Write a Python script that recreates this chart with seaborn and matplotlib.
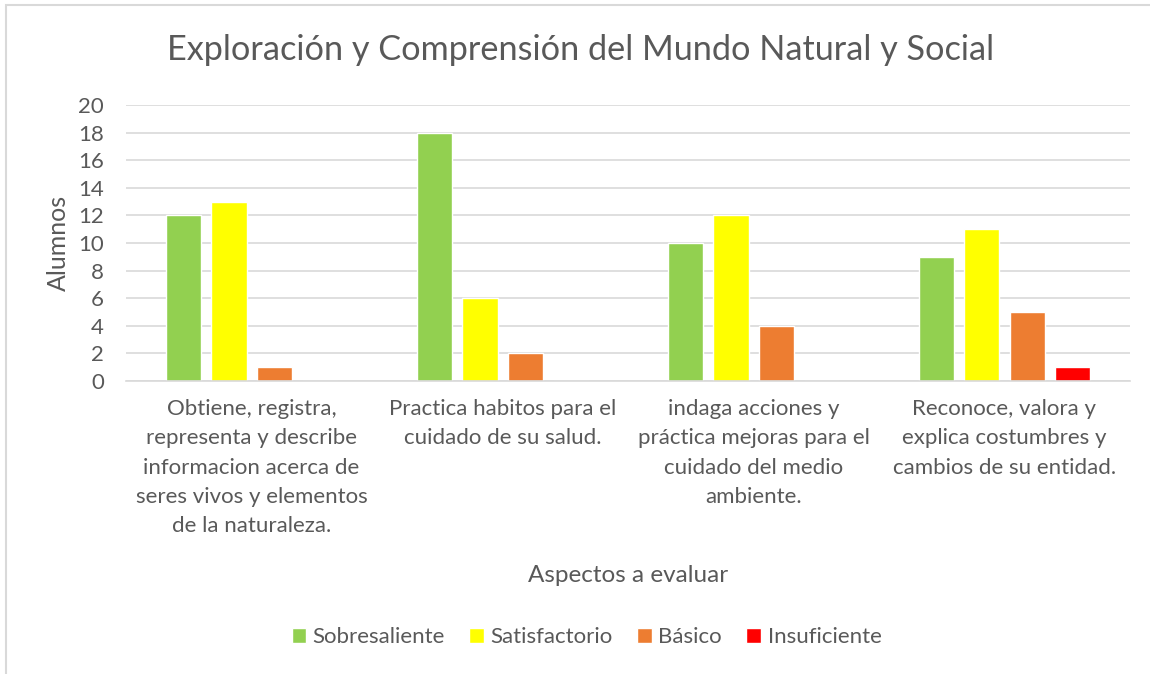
import pandas as pd
import matplotlib.pyplot as plt
import seaborn as sns
from matplotlib.patches import Rectangle

# Data
aspectos = [
    "Obtiene, registra,\nrepresenta y describe\ninformacion acerca de\nseres vivos y elementos\nde la naturaleza.",
    "Practica habitos para el\ncuidado de su salud.",
    "indaga acciones y\npráctica mejoras para el\ncuidado del medio\nambiente.",
    "Reconoce, valora y\nexplica costumbres y\ncambios de su entidad.",
]
niveles = ["Sobresaliente", "Satisfactorio", "Básico", "Insuficiente"]
sobresaliente = [12, 18, 10, 9]
satisfactorio = [13, 6, 12, 11]
basico = [1, 2, 4, 5]
insuficiente = [0, 0, 0, 1]

colores = {"Sobresaliente": "#92D050", "Satisfactorio": "#FFFF00",
           "Básico": "#ED7D31", "Insuficiente": "#FF0000"}

rows = []
for nivel, vals in zip(niveles, [sobresaliente, satisfactorio, basico, insuficiente]):
    for a, v in zip(aspectos, vals):
        rows.append({"Aspecto": a, "Nivel": nivel, "Alumnos": v})
df = pd.DataFrame(rows)

sns.set_style("white")
plt.rcParams['font.family'] = ['Lato', 'DejaVu Sans']
gris = "#595959"

fig = plt.figure(figsize=(11.5, 6.74), dpi=100)
ax = fig.add_axes([0.1096, 0.4347, 0.8730, 0.4095])

sns.barplot(data=df, x="Aspecto", y="Alumnos", hue="Nivel", order=aspectos,
            hue_order=niveles, palette=colores, width=0.725, gap=0.22,
            saturation=1, ax=ax, legend=True)

ax.set_ylim(0, 20)
ax.set_yticks(range(0, 21, 2))
ax.set_xlim(-0.5, 3.5)
ax.yaxis.grid(True, color="#D9D9D9", linewidth=1.2)
ax.set_axisbelow(True)
for s in ["top", "right", "left"]:
    ax.spines[s].set_visible(False)
ax.spines["bottom"].set_color("#D9D9D9")
ax.spines["bottom"].set_linewidth(1.2)
ax.tick_params(axis="both", length=0, labelcolor=gris, labelsize=16)
ax.tick_params(axis="x", pad=13)
ax.tick_params(axis="y", pad=16)
for lbl in ax.get_xticklabels():
    lbl.set_linespacing(1.58)

ax.set_ylabel("Alumnos", fontsize=18, color=gris, labelpad=6)
ax.set_xlabel("Aspectos a evaluar", fontsize=17.5, color=gris, labelpad=21)

fig.suptitle("Exploración y Comprensión del Mundo Natural y Social",
             fontsize=24.7, color=gris, x=0.505, y=0.926, va="center")

handles, labels = ax.get_legend_handles_labels()
ax.get_legend().remove()
fig.legend(handles, labels, loc="center", bbox_to_anchor=(0.51, 0.055),
           ncol=4, frameon=False, fontsize=16, labelcolor=gris,
           handlelength=0.65, handleheight=0.65, handletextpad=0.3,
           columnspacing=1.1)

fig.patches.append(Rectangle((0.005, -0.01), 1.2, 1.002, transform=fig.transFigure,
                             fill=False, edgecolor="#D9D9D9", linewidth=1.5))

fig.savefig("out.png", dpi=100)
